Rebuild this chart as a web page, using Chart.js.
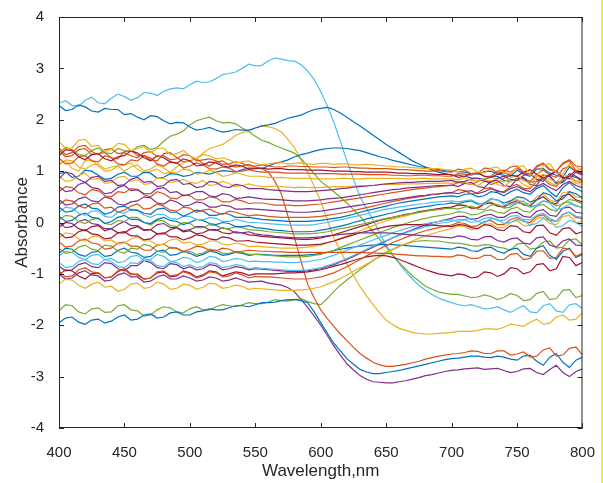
<!DOCTYPE html>
<html>
<head>
<meta charset="utf-8">
<title>Absorbance spectra</title>
<script src="https://cdn.jsdelivr.net/npm/chart.js@4.4.1/dist/chart.umd.min.js"></script>
<style>
    html, body { margin: 0; padding: 0; background: #ffffff; }
    #wrap { width: 603px; height: 483px; }
</style>
</head>
<body>
<div id="wrap"><canvas id="specChart" width="603" height="483"></canvas></div>
<script>
// wavelength grid, nm (5 nm steps)
const wavelengths = [400,405,410,415,420,425,430,435,440,445,450,455,460,465,470,475,480,485,490,495,
    500,505,510,515,520,525,530,535,540,545,550,555,560,565,570,575,580,585,590,595,
    600,605,610,615,620,625,630,635,640,645,650,655,660,665,670,675,680,685,690,695,
    700,705,710,715,720,725,730,735,740,745,750,755,760,765,770,775,780,785,790,795,800];
const xTickValues = [400,450,500,550,600,650,700,750,800];
const yTickValues = [-4,-3,-2,-1,0,1,2,3,4];

// spectra (absorbance at each wavelength above)
const absCyanPeak = [2.32,2.37,2.28,2.26,2.38,2.44,2.33,2.31,2.42,2.5, 2.45,2.38,2.43,2.53,2.52,2.47,2.55,2.6,2.62,2.6,
    2.68,2.75,2.72,2.74,2.8,2.88,2.9,2.93,3.0,3.08, 3.05,3.06,3.15,3.2,3.18,3.15,3.14,3.07,2.95,2.78,
    2.55,2.27,1.95,1.58,1.2,0.85,0.5,0.27,0.05,-0.2, -0.45,-0.63,-0.8,-0.96,-1.1,-1.22,-1.32,-1.4,-1.47,-1.52,
    -1.56,-1.6,-1.62,-1.6,-1.64,-1.68,-1.67,-1.64,-1.7,-1.75, -1.68,-1.62,-1.74,-1.76,-1.62,-1.58,-1.72,-1.75,-1.6,-1.58, -1.68];
const absBlueHigh = [2.28,2.18,2.2,2.29,2.25,2.17,2.15,2.22,2.2,2.2, 2.1,2.12,2.05,2.0,2.08,2.06,1.98,1.92,1.95,1.94,
    1.86,1.8,1.82,1.85,1.8,1.76,1.78,1.81,1.8,1.8, 1.84,1.88,1.9,1.93,1.98,2.03,2.06,2.09,2.15,2.2,
    2.22,2.24,2.2,2.13,2.05,1.96,1.88,1.79,1.7,1.61, 1.52,1.44,1.36,1.28,1.2,1.14,1.08,1.02,0.98,0.95,
    0.92,0.92,0.9,0.87,0.86,0.84,0.88,0.9,0.82,0.8, 0.86,0.88,0.78,0.8,0.92,0.9,0.75,0.78,0.9,0.88, 0.8];
const absGreenHump = [1.35,1.46,1.42,1.32,1.3,1.4,1.45,1.36,1.34,1.44, 1.4,1.38,1.48,1.5,1.42,1.46,1.58,1.68,1.72,1.78,
    1.9,1.98,2.02,2.05,1.98,1.94,1.95,1.92,1.84,1.77, 1.68,1.6,1.56,1.5,1.45,1.4,1.35,1.24,1.1,0.95,
    0.8,0.7,0.6,0.49,0.38,0.25,0.12,-0.03,-0.18,-0.33, -0.48,-0.63,-0.78,-0.91,-1.04,-1.14,-1.24,-1.3,-1.35,-1.38,
    -1.4,-1.4,-1.43,-1.46,-1.45,-1.41,-1.44,-1.5,-1.46,-1.38, -1.42,-1.52,-1.5,-1.38,-1.34,-1.5,-1.48,-1.32,-1.3,-1.46, -1.42];
const absYellowHump = [1.15,1.2,1.05,1.0,1.2,1.22,1.1,1.0,1.02,1.1, 1.12,1.16,1.04,0.96,1.0,1.04,0.95,0.98,1.08,1.16,
    1.2,1.25,1.35,1.44,1.48,1.52,1.6,1.7,1.75,1.78, 1.84,1.88,1.86,1.83,1.76,1.62,1.45,1.22,0.98,0.7,
    0.42,0.05,-0.3,-0.55,-0.8,-1.03,-1.25,-1.43,-1.6,-1.76, -1.9,-1.99,-2.06,-2.1,-2.14,-2.16,-2.17,-2.17,-2.16,-2.15,
    -2.14,-2.12,-2.12,-2.12,-2.1,-2.07,-2.07,-2.08,-2.04,-1.98, -2.0,-2.02,-1.94,-1.88,-1.98,-1.96,-1.84,-1.8,-1.9,-1.88, -1.76];
const absOrangeDrop = [1.4,1.28,1.3,1.42,1.44,1.32,1.34,1.36,1.26,1.24, 1.38,1.4,1.3,1.3,1.22,1.2,1.34,1.36,1.26,1.18,
    1.2,1.24,1.15,1.1,1.18,1.2,1.12,1.08,1.1,1.13, 1.08,1.05,0.98,0.8,0.55,0.12,-0.3,-0.76,-1.2,-1.47,
    -1.7,-1.87,-2.02,-2.17,-2.3,-2.43,-2.55,-2.64,-2.72,-2.77, -2.8,-2.8,-2.78,-2.76,-2.73,-2.7,-2.66,-2.63,-2.6,-2.58,
    -2.56,-2.55,-2.53,-2.5,-2.51,-2.55,-2.55,-2.5,-2.5,-2.58, -2.56,-2.52,-2.62,-2.6,-2.48,-2.44,-2.6,-2.58,-2.45,-2.42, -2.58];
const absBlueDrop = [-1.95,-1.86,-1.84,-1.94,-1.98,-1.9,-1.88,-1.96,-1.92,-1.84, -1.8,-1.9,-1.88,-1.8,-1.78,-1.86,-1.84,-1.76,-1.74,-1.8,
    -1.8,-1.74,-1.72,-1.68,-1.7,-1.7,-1.66,-1.62,-1.62,-1.64, -1.6,-1.56,-1.56,-1.55,-1.52,-1.5,-1.5,-1.52,-1.56,-1.74,
    -1.95,-2.15,-2.35,-2.5,-2.65,-2.76,-2.86,-2.91,-2.94,-2.94, -2.92,-2.9,-2.88,-2.85,-2.82,-2.79,-2.76,-2.73,-2.7,-2.67,
    -2.65,-2.64,-2.62,-2.6,-2.6,-2.62,-2.63,-2.6,-2.62,-2.66, -2.68,-2.6,-2.58,-2.7,-2.78,-2.62,-2.55,-2.72,-2.82,-2.68, -2.62];
const absBlueMid = [0.95,0.98,0.88,0.9,1.02,1.0,0.92,0.84,0.86,0.94, 0.98,0.9,0.9,0.98,0.96,0.86,0.88,0.95,0.94,0.9,
    0.92,0.97,0.96,0.94,0.98,1.01,1.0,0.98,1.03,1.06, 1.06,1.05,1.1,1.15,1.18,1.22,1.28,1.32,1.35,1.39,
    1.42,1.44,1.45,1.45,1.44,1.42,1.4,1.36,1.32,1.28, 1.25,1.21,1.18,1.15,1.12,1.09,1.07,1.05,1.03,1.01,
    1.0,0.99,0.98,0.95,0.94,0.99,1.0,0.94,0.92,0.9, 1.02,0.94,0.9,1.04,1.05,0.96,0.92,0.88,1.08,1.0, 0.95];
const absGreenLow = [-1.72,-1.6,-1.62,-1.74,-1.78,-1.68,-1.66,-1.75,-1.74,-1.62, -1.6,-1.7,-1.72,-1.82,-1.8,-1.7,-1.64,-1.66,-1.74,-1.76,
    -1.68,-1.64,-1.7,-1.7,-1.64,-1.6,-1.62,-1.64,-1.6,-1.56, -1.58,-1.58,-1.55,-1.5,-1.52,-1.53,-1.5,-1.48,-1.54,-1.58,
    -1.6,-1.48,-1.34,-1.22,-1.12,-1.02,-0.92,-0.83,-0.74,-0.66, -0.58,-0.52,-0.46,-0.42,-0.38,-0.36,-0.35,-0.36,-0.36,-0.38,
    -0.4,-0.4,-0.42,-0.45,-0.46,-0.43,-0.44,-0.48,-0.5,-0.54, -0.42,-0.4,-0.52,-0.5,-0.38,-0.36,-0.5,-0.48,-0.34,-0.32, -0.44];
const absPurpleDrop = [-1.0,-1.1,-1.08,-0.98,-0.94,-1.02,-1.04,-1.14,-1.12,-1.02, -0.98,-1.06,-1.06,-1.16,-1.14,-1.06,-1.02,-1.1,-1.1,-1.04,
    -1.08,-1.14,-1.12,-1.06,-1.08,-1.14,-1.12,-1.08,-1.12,-1.16, -1.15,-1.14,-1.18,-1.2,-1.22,-1.27,-1.35,-1.5,-1.65,-1.82,
    -2.0,-2.2,-2.4,-2.58,-2.75,-2.87,-2.98,-3.05,-3.1,-3.11, -3.12,-3.12,-3.1,-3.08,-3.05,-3.02,-2.98,-2.96,-2.93,-2.9,
    -2.88,-2.87,-2.85,-2.84,-2.83,-2.86,-2.85,-2.84,-2.88,-2.92, -2.9,-2.85,-2.84,-2.92,-2.96,-2.86,-2.78,-2.92,-3.0,-2.9, -2.85];

const abs01 = [1.58,1.44,1.45,1.6,1.62,1.48,1.5,1.38,1.42,1.54, 1.52,1.4,1.44,1.48,1.36,1.44,1.45,1.32,1.34,1.4,
    1.3,1.24,1.32,1.3,1.24,1.26,1.22,1.16,1.18,1.2, 1.15,1.12,1.14,1.16,1.16,1.14,1.15,1.16,1.14,1.13,
    1.15,1.15,1.13,1.14,1.14,1.12,1.12,1.13,1.12,1.11, 1.1,1.09,1.08,1.08,1.07,1.06,1.05,1.05,1.05,1.03,
    1.02,0.98,1.04,1.06,0.98,0.96,1.06,1.08,0.97,0.94, 1.08,1.1,0.93,0.9,1.1,1.15,0.96,0.94,1.14,1.1, 0.98];
const abs02 = [1.45,1.32,1.36,1.48,1.5,1.38,1.32,1.42,1.44,1.34, 1.36,1.3,1.26,1.36,1.38,1.28,1.3,1.22,1.24,1.32,
    1.3,1.2,1.22,1.24,1.2,1.13,1.14,1.18,1.15,1.1, 1.1,1.12,1.1,1.08,1.08,1.1,1.1,1.09,1.09,1.08,
    1.08,1.08,1.07,1.08,1.08,1.07,1.06,1.06,1.05,1.05, 1.05,1.04,1.03,1.03,1.02,1.01,1.0,1.0,1.01,0.99,
    0.98,1.04,1.02,0.95,0.96,1.06,1.05,0.96,0.99,1.08, 1.1,0.98,0.94,1.1,1.16,1.04,1.0,1.14,1.2,1.0, 1.05];
const abs03 = [1.3,1.42,1.4,1.28,1.22,1.32,1.34,1.24,1.2,1.28, 1.3,1.4,1.35,1.26,1.2,1.3,1.26,1.18,1.15,1.24,
    1.2,1.1,1.12,1.18,1.16,1.1,1.08,1.12,1.1,1.04, 1.05,1.06,1.04,1.05,1.05,1.03,1.03,1.03,1.02,1.02,
    1.02,1.01,1.0,1.0,1.0,0.99,0.99,0.98,0.98,0.98, 0.98,0.97,0.96,0.96,0.95,0.95,0.95,0.94,0.93,0.94,
    0.93,0.88,0.9,0.95,0.96,0.9,0.88,0.94,0.97,0.92, 0.9,0.98,1.03,0.94,0.86,0.92,1.0,0.86,0.9,1.02, 0.96];
const abs04 = [1.25,1.14,1.16,1.28,1.3,1.2,1.18,1.3,1.26,1.14, 1.12,1.22,1.2,1.3,1.26,1.14,1.1,1.18,1.16,1.06,
    1.1,1.16,1.12,1.05,1.04,1.08,1.06,0.99,1.0,1.03, 1.0,0.98,0.98,0.98,0.97,0.96,0.96,0.96,0.96,0.95,
    0.95,0.95,0.95,0.94,0.94,0.94,0.94,0.93,0.93,0.93, 0.93,0.92,0.92,0.91,0.91,0.92,0.92,0.91,0.91,0.9,
    0.9,0.95,0.94,0.92,0.97,0.9,0.9,1.0,1.02,0.98, 1.06,0.96,0.94,1.08,1.14,1.02,1.0,1.16,1.22,1.1, 1.08];
const abs05 = [1.12,1.22,1.2,1.08,1.04,1.12,1.14,1.04,1.08,1.1, 1.0,1.08,1.12,1.0,1.04,1.12,1.06,0.98,0.96,1.04,
    1.02,0.94,0.96,1.02,0.98,0.9,0.92,0.97,0.94,0.9, 0.9,0.9,0.88,0.87,0.88,0.87,0.86,0.86,0.86,0.85,
    0.85,0.85,0.85,0.86,0.86,0.85,0.85,0.86,0.86,0.86, 0.86,0.86,0.86,0.85,0.85,0.86,0.86,0.85,0.85,0.85,
    0.85,0.83,0.87,0.82,0.81,0.86,0.89,0.83,0.79,0.87, 0.92,0.82,0.76,0.88,0.94,0.84,0.79,0.92,0.9,0.8, 0.82];
const abs06 = [0.85,0.98,0.95,0.84,0.78,0.88,0.9,0.8,0.82,0.72, 0.74,0.84,0.88,0.78,0.8,0.7,0.72,0.82,0.84,0.74,
    0.76,0.68,0.7,0.8,0.78,0.7,0.68,0.74,0.72,0.66, 0.66,0.66,0.64,0.63,0.62,0.61,0.6,0.6,0.6,0.61,
    0.62,0.63,0.64,0.66,0.67,0.69,0.7,0.71,0.72,0.74, 0.75,0.76,0.77,0.78,0.78,0.79,0.8,0.8,0.8,0.81,
    0.82,0.78,0.8,0.85,0.86,0.8,0.78,0.86,0.9,0.84, 0.82,0.92,0.95,0.84,0.8,0.94,1.0,0.88,0.85,0.98, 0.92];
const abs07 = [0.9,0.8,0.82,0.92,0.96,0.84,0.86,0.76,0.78,0.88, 0.9,0.8,0.84,0.74,0.76,0.86,0.86,0.78,0.8,0.84,
    0.78,0.76,0.82,0.72,0.74,0.8,0.76,0.7,0.72,0.75, 0.72,0.7,0.7,0.71,0.7,0.69,0.68,0.69,0.68,0.68,
    0.68,0.69,0.7,0.7,0.7,0.71,0.72,0.72,0.72,0.73, 0.74,0.74,0.74,0.75,0.75,0.75,0.76,0.76,0.76,0.77,
    0.76,0.8,0.78,0.74,0.72,0.8,0.82,0.74,0.7,0.8, 0.85,0.74,0.68,0.82,0.9,0.78,0.72,0.84,0.86,0.76, 0.74];
const abs08 = [0.7,0.6,0.62,0.74,0.78,0.68,0.66,0.56,0.58,0.68, 0.72,0.62,0.64,0.56,0.56,0.66,0.68,0.58,0.6,0.52,
    0.55,0.6,0.6,0.52,0.5,0.56,0.54,0.47,0.48,0.5, 0.48,0.46,0.45,0.45,0.44,0.43,0.42,0.42,0.42,0.43,
    0.44,0.46,0.47,0.48,0.5,0.52,0.54,0.56,0.58,0.6, 0.62,0.64,0.65,0.67,0.68,0.69,0.7,0.71,0.72,0.72,
    0.73,0.7,0.76,0.78,0.7,0.68,0.8,0.82,0.72,0.7, 0.85,0.86,0.74,0.72,0.92,0.9,0.78,0.8,0.95,0.9, 0.82];
const abs09 = [0.6,0.7,0.68,0.58,0.54,0.64,0.62,0.52,0.5,0.6, 0.58,0.66,0.64,0.54,0.5,0.6,0.56,0.48,0.46,0.54,
    0.52,0.44,0.44,0.5,0.48,0.4,0.4,0.45,0.42,0.37, 0.38,0.38,0.36,0.34,0.34,0.34,0.33,0.33,0.34,0.35,
    0.36,0.38,0.4,0.42,0.44,0.46,0.48,0.5,0.52,0.54, 0.56,0.58,0.6,0.62,0.64,0.66,0.67,0.69,0.7,0.71,
    0.72,0.78,0.76,0.74,0.8,0.84,0.74,0.78,0.86,0.92, 0.9,0.82,0.8,0.94,1.02,0.92,0.88,1.04,1.1,0.98, 0.95];
const abs10 = [0.45,0.34,0.36,0.46,0.5,0.42,0.4,0.5,0.46,0.36, 0.34,0.4,0.42,0.5,0.48,0.38,0.36,0.44,0.4,0.32,
    0.34,0.4,0.38,0.3,0.3,0.34,0.32,0.26,0.26,0.27, 0.26,0.25,0.24,0.23,0.22,0.21,0.2,0.2,0.2,0.21,
    0.22,0.24,0.26,0.28,0.3,0.32,0.34,0.36,0.38,0.4, 0.42,0.44,0.46,0.48,0.5,0.52,0.53,0.55,0.56,0.57,
    0.58,0.56,0.6,0.62,0.56,0.6,0.66,0.62,0.58,0.66, 0.7,0.64,0.6,0.7,0.76,0.68,0.62,0.74,0.8,0.72, 0.68];
const abs11 = [0.35,0.44,0.42,0.32,0.28,0.36,0.38,0.28,0.3,0.2, 0.24,0.32,0.36,0.26,0.28,0.36,0.32,0.24,0.22,0.3,
    0.28,0.2,0.24,0.26,0.2,0.16,0.22,0.2,0.16,0.13, 0.15,0.14,0.12,0.11,0.1,0.1,0.1,0.1,0.1,0.11,
    0.12,0.14,0.16,0.18,0.2,0.23,0.26,0.29,0.32,0.35, 0.38,0.41,0.43,0.46,0.48,0.5,0.52,0.54,0.55,0.57,
    0.58,0.64,0.62,0.56,0.58,0.66,0.68,0.6,0.6,0.7, 0.74,0.66,0.66,0.8,0.85,0.74,0.7,0.86,0.9,0.8, 0.78];
const abs12 = [0.3,0.2,0.22,0.32,0.36,0.28,0.26,0.16,0.2,0.3, 0.32,0.24,0.24,0.18,0.16,0.26,0.28,0.2,0.2,0.12,
    0.18,0.24,0.22,0.14,0.14,0.18,0.16,0.1,0.1,0.1, 0.08,0.06,0.05,0.04,0.03,0.02,0.02,0.02,0.02,0.03,
    0.04,0.06,0.08,0.1,0.13,0.16,0.2,0.23,0.26,0.29, 0.32,0.35,0.38,0.4,0.42,0.44,0.46,0.48,0.5,0.51,
    0.52,0.5,0.55,0.56,0.5,0.52,0.6,0.58,0.52,0.6, 0.65,0.58,0.55,0.66,0.72,0.6,0.5,0.68,0.78,0.66, 0.6];
const abs13 = [0.2,0.3,0.28,0.18,0.14,0.22,0.22,0.12,0.1,0.2, 0.18,0.26,0.24,0.14,0.1,0.16,0.16,0.08,0.06,0.12,
    0.12,0.06,0.05,0.1,0.08,0.02,0.02,0.06,0.03,0.0, 0.0,-0.01,-0.02,-0.03,-0.04,-0.05,-0.05,-0.05,-0.05,-0.04,
    -0.02,0.0,0.03,0.05,0.08,0.11,0.14,0.17,0.2,0.23, 0.26,0.28,0.3,0.32,0.34,0.36,0.37,0.39,0.4,0.41,
    0.42,0.4,0.42,0.44,0.38,0.36,0.45,0.44,0.35,0.34, 0.4,0.42,0.3,0.32,0.42,0.38,0.25,0.28,0.36,0.34, 0.28];
const abs14 = [0.12,0.02,0.04,0.14,0.18,0.1,0.08,-0.02,0.02,0.1, 0.14,0.06,0.06,0.0,-0.02,0.06,0.1,0.04,0.02,-0.04,
    0.0,0.06,0.04,-0.02,-0.04,0.0,-0.02,-0.08,-0.08,-0.06, -0.1,-0.11,-0.13,-0.15,-0.16,-0.17,-0.18,-0.18,-0.18,-0.17,
    -0.15,-0.13,-0.1,-0.07,-0.04,0.0,0.03,0.07,0.1,0.13, 0.16,0.19,0.22,0.25,0.27,0.29,0.31,0.33,0.35,0.36,
    0.38,0.36,0.4,0.42,0.36,0.38,0.46,0.44,0.38,0.42, 0.5,0.48,0.4,0.44,0.58,0.54,0.42,0.46,0.6,0.56, 0.48];
const abs15 = [0.05,0.14,0.12,0.02,-0.02,0.06,0.08,-0.02,-0.04,0.04, 0.02,0.1,0.1,0.0,-0.05,0.04,0.03,-0.06,-0.08,0.0,
    -0.02,-0.1,-0.1,-0.04,-0.06,-0.12,-0.12,-0.08,-0.1,-0.14, -0.15,-0.16,-0.18,-0.19,-0.2,-0.21,-0.22,-0.22,-0.22,-0.21,
    -0.2,-0.18,-0.15,-0.12,-0.1,-0.07,-0.04,-0.01,0.02,0.05, 0.08,0.1,0.13,0.15,0.18,0.2,0.22,0.24,0.25,0.27,
    0.28,0.26,0.3,0.32,0.26,0.25,0.34,0.35,0.28,0.3, 0.38,0.36,0.3,0.34,0.42,0.4,0.32,0.36,0.45,0.42, 0.36];
const abs16 = [0.0,-0.1,-0.08,0.02,0.06,-0.02,-0.04,-0.12,-0.12,-0.04, 0.02,-0.06,-0.06,-0.14,-0.14,-0.04,-0.02,-0.1,-0.1,-0.16,
    -0.14,-0.08,-0.08,-0.14,-0.16,-0.1,-0.14,-0.2,-0.2,-0.18, -0.22,-0.24,-0.25,-0.27,-0.28,-0.29,-0.3,-0.3,-0.3,-0.29,
    -0.28,-0.26,-0.25,-0.23,-0.22,-0.21,-0.2,-0.2,-0.2,-0.2, -0.2,-0.21,-0.22,-0.23,-0.24,-0.25,-0.26,-0.27,-0.28,-0.29,
    -0.3,-0.26,-0.28,-0.33,-0.34,-0.28,-0.27,-0.35,-0.38,-0.32, -0.3,-0.4,-0.42,-0.3,-0.28,-0.44,-0.48,-0.36,-0.32,-0.44, -0.45];
const abs17 = [-0.1,0.0,-0.02,-0.12,-0.16,-0.08,-0.06,-0.16,-0.12,-0.2, -0.2,-0.12,-0.08,-0.16,-0.14,-0.22,-0.22,-0.14,-0.1,-0.18,
    -0.16,-0.22,-0.2,-0.14,-0.14,-0.2,-0.22,-0.18,-0.2,-0.24, -0.25,-0.27,-0.28,-0.29,-0.3,-0.31,-0.32,-0.33,-0.33,-0.32,
    -0.3,-0.27,-0.24,-0.2,-0.16,-0.12,-0.08,-0.04,0.0,0.04, 0.07,0.1,0.13,0.16,0.18,0.21,0.23,0.25,0.27,0.29,
    0.3,0.34,0.33,0.28,0.28,0.36,0.38,0.32,0.3,0.38, 0.42,0.34,0.32,0.44,0.5,0.4,0.36,0.52,0.55,0.44, 0.4];
const abs18 = [-0.2,-0.3,-0.28,-0.18,-0.14,-0.22,-0.24,-0.32,-0.3,-0.2, -0.18,-0.26,-0.26,-0.34,-0.32,-0.22,-0.2,-0.28,-0.28,-0.34,
    -0.3,-0.24,-0.26,-0.32,-0.34,-0.28,-0.3,-0.36,-0.36,-0.35, -0.38,-0.39,-0.4,-0.41,-0.42,-0.43,-0.44,-0.44,-0.44,-0.43,
    -0.42,-0.39,-0.36,-0.32,-0.28,-0.24,-0.2,-0.17,-0.14,-0.11, -0.08,-0.06,-0.05,-0.04,-0.04,-0.04,-0.05,-0.05,-0.06,-0.07,
    -0.08,-0.04,-0.05,-0.1,-0.12,-0.04,-0.06,-0.14,-0.16,-0.06, -0.08,-0.18,-0.2,-0.06,-0.05,-0.2,-0.25,-0.12,-0.1,-0.22, -0.18];
const abs19 = [-0.3,-0.2,-0.22,-0.32,-0.36,-0.28,-0.26,-0.36,-0.34,-0.42, -0.4,-0.32,-0.28,-0.36,-0.36,-0.44,-0.42,-0.34,-0.32,-0.4,
    -0.38,-0.44,-0.42,-0.36,-0.36,-0.42,-0.44,-0.4,-0.42,-0.47, -0.46,-0.47,-0.48,-0.49,-0.5,-0.5,-0.5,-0.49,-0.48,-0.46,
    -0.44,-0.4,-0.36,-0.31,-0.26,-0.21,-0.16,-0.11,-0.06,-0.01, 0.03,0.07,0.1,0.13,0.16,0.19,0.21,0.24,0.26,0.28,
    0.3,0.35,0.34,0.28,0.3,0.38,0.4,0.34,0.32,0.42, 0.45,0.38,0.36,0.5,0.55,0.44,0.4,0.58,0.6,0.5, 0.48];
const abs20 = [-0.38,-0.48,-0.46,-0.36,-0.32,-0.4,-0.42,-0.52,-0.5,-0.4, -0.38,-0.46,-0.46,-0.54,-0.54,-0.44,-0.42,-0.5,-0.5,-0.56,
    -0.52,-0.46,-0.48,-0.54,-0.55,-0.5,-0.52,-0.58,-0.56,-0.54, -0.55,-0.56,-0.56,-0.57,-0.57,-0.58,-0.58,-0.58,-0.58,-0.58,
    -0.58,-0.58,-0.58,-0.58,-0.58,-0.58,-0.58,-0.59,-0.59,-0.6, -0.6,-0.61,-0.62,-0.63,-0.64,-0.65,-0.65,-0.66,-0.66,-0.67,
    -0.67,-0.63,-0.65,-0.7,-0.7,-0.64,-0.64,-0.72,-0.72,-0.62, -0.6,-0.72,-0.7,-0.56,-0.55,-0.7,-0.68,-0.5,-0.52,-0.66, -0.6];
const abs21 = [-0.5,-0.6,-0.58,-0.48,-0.44,-0.52,-0.54,-0.44,-0.46,-0.56, -0.6,-0.5,-0.52,-0.42,-0.46,-0.56,-0.58,-0.48,-0.5,-0.58,
    -0.56,-0.62,-0.6,-0.52,-0.54,-0.6,-0.6,-0.56,-0.58,-0.62, -0.62,-0.63,-0.64,-0.65,-0.66,-0.67,-0.67,-0.67,-0.66,-0.64,
    -0.62,-0.58,-0.54,-0.49,-0.44,-0.39,-0.34,-0.29,-0.24,-0.19, -0.15,-0.1,-0.06,-0.02,0.02,0.05,0.08,0.11,0.13,0.15,
    0.17,0.21,0.2,0.15,0.16,0.22,0.25,0.2,0.18,0.26, 0.3,0.22,0.2,0.32,0.35,0.26,0.22,0.38,0.4,0.32, 0.3];
const abs22 = [-0.65,-0.56,-0.58,-0.68,-0.72,-0.64,-0.62,-0.72,-0.7,-0.78, -0.76,-0.66,-0.64,-0.74,-0.72,-0.62,-0.66,-0.76,-0.74,-0.68,
    -0.7,-0.78,-0.74,-0.66,-0.68,-0.76,-0.74,-0.7,-0.72,-0.76, -0.75,-0.76,-0.76,-0.77,-0.77,-0.78,-0.78,-0.77,-0.76,-0.74,
    -0.72,-0.68,-0.64,-0.59,-0.54,-0.49,-0.44,-0.39,-0.34,-0.29, -0.25,-0.2,-0.16,-0.12,-0.08,-0.05,-0.02,0.0,0.02,0.04,
    0.05,0.02,0.06,0.08,0.02,-0.01,0.08,0.06,-0.02,0.0, 0.06,0.04,-0.05,-0.02,0.08,0.04,-0.1,-0.06,0.04,0.0, -0.08];
const abs23 = [-0.78,-0.88,-0.86,-0.76,-0.72,-0.8,-0.82,-0.72,-0.76,-0.86, -0.88,-0.78,-0.8,-0.7,-0.74,-0.84,-0.86,-0.76,-0.78,-0.86,
    -0.82,-0.88,-0.86,-0.78,-0.8,-0.88,-0.86,-0.82,-0.84,-0.9, -0.88,-0.89,-0.9,-0.91,-0.92,-0.93,-0.93,-0.93,-0.92,-0.9,
    -0.88,-0.84,-0.8,-0.75,-0.7,-0.64,-0.58,-0.52,-0.46,-0.4, -0.35,-0.3,-0.25,-0.2,-0.16,-0.12,-0.08,-0.05,-0.02,0.0,
    0.02,0.06,0.05,0.0,0.02,0.08,0.1,0.04,0.04,0.12, 0.14,0.06,0.05,0.14,0.18,0.08,0.02,0.16,0.2,0.12, 0.1];
const abs24 = [-0.95,-1.06,-1.04,-0.92,-0.88,-0.96,-0.98,-1.08,-1.06,-0.94, -0.92,-1.02,-1.0,-1.1,-1.08,-0.96,-0.94,-1.04,-1.02,-0.96,
    -1.0,-1.08,-1.04,-0.96,-0.98,-1.06,-1.04,-0.98,-1.02,-1.08, -1.05,-1.06,-1.06,-1.07,-1.08,-1.09,-1.1,-1.1,-1.1,-1.08,
    -1.06,-1.02,-0.98,-0.92,-0.86,-0.79,-0.72,-0.65,-0.58,-0.51, -0.45,-0.39,-0.34,-0.29,-0.24,-0.2,-0.16,-0.13,-0.1,-0.07,
    -0.05,0.0,-0.02,-0.08,-0.06,0.02,0.04,-0.04,-0.04,0.06, 0.1,0.02,0.0,0.12,0.15,0.04,0.02,0.16,0.2,0.1, 0.08];
const abs25 = [-1.02,-0.92,-0.94,-1.04,-1.1,-1.0,-0.98,-1.08,-1.06,-0.96, -0.9,-1.0,-1.02,-1.1,-1.08,-0.98,-0.96,-1.06,-1.04,-0.94,
    -0.98,-1.06,-1.02,-0.94,-0.96,-1.04,-1.0,-0.96,-0.98,-1.03, -1.0,-1.0,-1.0,-1.0,-0.99,-0.98,-0.98,-0.97,-0.96,-0.94,
    -0.92,-0.89,-0.85,-0.82,-0.78,-0.74,-0.7,-0.67,-0.65,-0.64, -0.65,-0.68,-0.72,-0.77,-0.82,-0.87,-0.92,-0.96,-1.0,-1.02,
    -1.04,-1.0,-1.02,-1.08,-1.06,-0.96,-0.98,-1.05,-1.0,-0.88, -0.9,-1.0,-0.96,-0.82,-0.8,-0.94,-0.9,-0.66,-0.68,-0.84, -0.78];
const abs26 = [-1.2,-1.1,-1.12,-1.22,-1.28,-1.2,-1.16,-1.26,-1.24,-1.34, -1.3,-1.2,-1.18,-1.28,-1.26,-1.16,-1.2,-1.3,-1.28,-1.2,
    -1.22,-1.3,-1.26,-1.18,-1.2,-1.28,-1.26,-1.22,-1.24,-1.3, -1.28,-1.29,-1.3,-1.31,-1.32,-1.32,-1.32,-1.31,-1.3,-1.28,
    -1.25,-1.2,-1.15,-1.09,-1.02,-0.95,-0.88,-0.81,-0.74,-0.67, -0.6,-0.53,-0.47,-0.41,-0.36,-0.31,-0.26,-0.22,-0.18,-0.15,
    -0.12,-0.06,-0.08,-0.14,-0.12,-0.04,-0.02,-0.1,-0.1,0.0, 0.04,-0.06,-0.06,0.08,0.1,-0.02,-0.04,0.12,0.14,0.0, 0.02];
const abs27 = [-0.6,-0.5,-0.52,-0.62,-0.66,-0.58,-0.56,-0.66,-0.64,-0.54, -0.5,-0.58,-0.6,-0.68,-0.66,-0.56,-0.54,-0.64,-0.62,-0.56,
    -0.6,-0.66,-0.62,-0.56,-0.58,-0.64,-0.62,-0.58,-0.6,-0.64, -0.62,-0.62,-0.63,-0.64,-0.64,-0.64,-0.64,-0.64,-0.63,-0.62,
    -0.6,-0.58,-0.55,-0.52,-0.5,-0.48,-0.46,-0.45,-0.44,-0.43, -0.43,-0.43,-0.44,-0.45,-0.46,-0.47,-0.48,-0.49,-0.5,-0.51,
    -0.52,-0.48,-0.5,-0.55,-0.56,-0.5,-0.48,-0.56,-0.6,-0.52, -0.5,-0.62,-0.66,-0.5,-0.45,-0.64,-0.72,-0.56,-0.5,-0.68, -0.62];
const abs28 = [-0.85,-0.94,-0.92,-0.82,-0.78,-0.86,-0.88,-0.78,-0.8,-0.9, -0.94,-0.84,-0.84,-0.74,-0.78,-0.88,-0.9,-0.8,-0.82,-0.9,
    -0.86,-0.92,-0.9,-0.82,-0.84,-0.92,-0.9,-0.86,-0.88,-0.92, -0.9,-0.91,-0.92,-0.93,-0.94,-0.95,-0.95,-0.95,-0.94,-0.92,
    -0.9,-0.86,-0.82,-0.77,-0.72,-0.66,-0.6,-0.54,-0.48,-0.42, -0.36,-0.3,-0.24,-0.19,-0.14,-0.09,-0.05,-0.01,0.02,0.05,
    0.08,0.12,0.12,0.06,0.08,0.14,0.16,0.1,0.1,0.18, 0.2,0.12,0.1,0.22,0.25,0.14,0.12,0.28,0.3,0.2, 0.18];

const spectra = [abs01, abs02, abs03, abs04, abs05, abs06, abs07, abs08, abs09, abs10, abs11, abs12, abs13, abs14,
    abs15, abs16, abs17, abs18, abs19, abs20, abs21, abs22, abs23, abs24, abs25, abs26, abs27, abs28,
    absBlueMid, absBlueHigh, absGreenHump, absYellowHump, absOrangeDrop, absBlueDrop, absGreenLow, absPurpleDrop, absCyanPeak];

// MATLAB default line colours
const matlab = {
    blue: '#0072BD', orange: '#D95319', yellow: '#EDB120', purple: '#7E2F8E',
    green: '#77AC30', cyan: '#4DBEEE', darkred: '#A2142F'
};
const spectraColors = ['yellow', 'orange', 'darkred', 'orange', 'yellow', 'purple', 'yellow', 'purple', 'orange', 'purple', 'orange', 'blue', 'cyan', 'blue',
    'green', 'purple', 'darkred', 'darkred', 'yellow', 'orange', 'green', 'cyan', 'cyan', 'orange', 'darkred', 'yellow', 'blue', 'purple',
    'blue', 'blue', 'green', 'yellow', 'orange', 'blue', 'green', 'purple', 'cyan'];

const axisColor = '#262626';
const fontFamily = '"Liberation Sans", Arial, Helvetica, sans-serif';

// box round the axes with inward ticks on all four sides, plus the yellow edge at the right
const boxPlugin = {
    id: 'boxPlugin',
    afterDraw(chart) {
        const { ctx, chartArea: a, scales: { x, y } } = chart;
        const tl = 5;
        ctx.save();
        ctx.strokeStyle = axisColor;
        ctx.lineWidth = 1;
        ctx.beginPath();
        ctx.rect(a.left + 0.5, a.top + 0.5, a.right - a.left - 1, a.bottom - a.top - 1);
        xTickValues.forEach(v => {
            const px = Math.round(x.getPixelForValue(v)) + 0.5;
            ctx.moveTo(px, a.bottom);
            ctx.lineTo(px, a.bottom - tl);
            ctx.moveTo(px, a.top);
            ctx.lineTo(px, a.top + tl);
        });
        yTickValues.forEach(v => {
            const py = Math.round(y.getPixelForValue(v)) + 0.5;
            ctx.moveTo(a.left, py);
            ctx.lineTo(a.left + tl, py);
            ctx.moveTo(a.right, py);
            ctx.lineTo(a.right - tl, py);
        });
        ctx.stroke();
        ctx.fillStyle = '#f4ee2c';
        ctx.fillRect(601, 0, 2, chart.height);
        ctx.restore();
    }
};

const datasets = spectra.map((vals, i) => ({
    data: vals.map((v, j) => ({ x: wavelengths[j], y: v })),
    borderColor: matlab[spectraColors[i]],
    borderWidth: 1.2,
    pointRadius: 0,
    tension: 0,
    fill: false
}));

const ctx = document.getElementById('specChart').getContext('2d');
new Chart(ctx, {
    type: 'line',
    data: { datasets: datasets },
    options: {
        responsive: false,
        animation: false,
        layout: { padding: { left: 0, right: 20, top: 17, bottom: 0 } },
        plugins: {
            legend: { display: false },
            tooltip: { enabled: false }
        },
        scales: {
            x: {
                type: 'linear',
                min: 400,
                max: 800,
                afterFit: scale => { scale.height = 55; },
                afterBuildTicks: scale => { scale.ticks = xTickValues.map(v => ({ value: v })); },
                grid: { display: false },
                border: { display: false },
                ticks: {
                    padding: 8,
                    color: axisColor,
                    font: { family: fontFamily, size: 15 },
                    maxRotation: 0
                },
                title: {
                    display: true,
                    text: 'Wavelength,nm',
                    color: axisColor,
                    font: { family: fontFamily, size: 17 },
                    padding: { top: 0, bottom: 1 }
                }
            },
            y: {
                type: 'linear',
                min: -4,
                max: 4,
                afterFit: scale => { scale.width = 59; },
                afterBuildTicks: scale => { scale.ticks = yTickValues.map(v => ({ value: v })); },
                grid: { display: false },
                border: { display: false },
                ticks: {
                    padding: 7,
                    color: axisColor,
                    font: { family: fontFamily, size: 15 }
                },
                title: {
                    display: true,
                    text: 'Absorbance',
                    color: axisColor,
                    font: { family: fontFamily, size: 17 },
                    padding: { top: 12, bottom: 0 }
                }
            }
        }
    },
    plugins: [boxPlugin]
});
</script>
</body>
</html>
